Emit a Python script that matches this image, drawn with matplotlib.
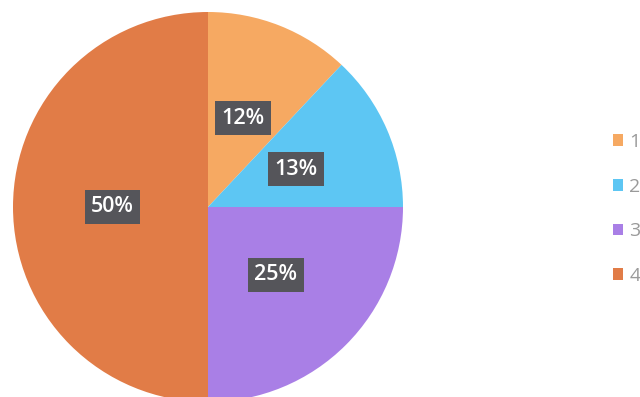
import matplotlib.pyplot as plt
from matplotlib.patches import Patch

# series data
categories = ["1", "2", "3", "4"]
shares = [12, 13, 25, 50]
colors = ["#F6A962", "#5DC6F3", "#A97FE6", "#E17C47"]

W, H = 640, 397
fig = plt.figure(figsize=(W / 100, H / 100), dpi=100)
fig.patch.set_facecolor("white")

# pie centred at (208, 207) px, radius 195 px
cx, cy, r = 208, H - 207, 195
ax = fig.add_axes([(cx - r) / W, (cy - r) / H, 2 * r / W, 2 * r / H])

wedges, texts = ax.pie(
    shares,
    colors=colors,
    startangle=90,
    counterclock=False,
    radius=1,
    labels=[f"{v}%" for v in shares],
    labeldistance=0.49,
    wedgeprops=dict(linewidth=0),
)
for t in texts:
    t.set_ha("center")
    t.set_va("center")
    t.set_color("white")
    t.set_fontsize(15.5)
    t.set_fontweight("semibold")
    t.set_family("Open Sans")
    t.set_bbox(dict(boxstyle="square,pad=0.3", fc="#55555A", ec="none"))

ax.set_xlim(-1, 1)
ax.set_ylim(-1, 1)
ax.set_aspect("auto")
ax.axis("off")

handles = [Patch(facecolor=c, edgecolor="none") for c in colors]
leg = fig.legend(
    handles, categories,
    loc="upper left",
    bbox_to_anchor=(603 / W, 1 - 123 / H),
    frameon=False,
    handlelength=0.55,
    handleheight=0.55,
    handletextpad=0.3,
    labelspacing=1.38,
    borderpad=0,
    prop={"family": "Open Sans", "size": 14},
)
for t in leg.get_texts():
    t.set_color("#9A9A9A")

fig.savefig("out.png", dpi=100)
